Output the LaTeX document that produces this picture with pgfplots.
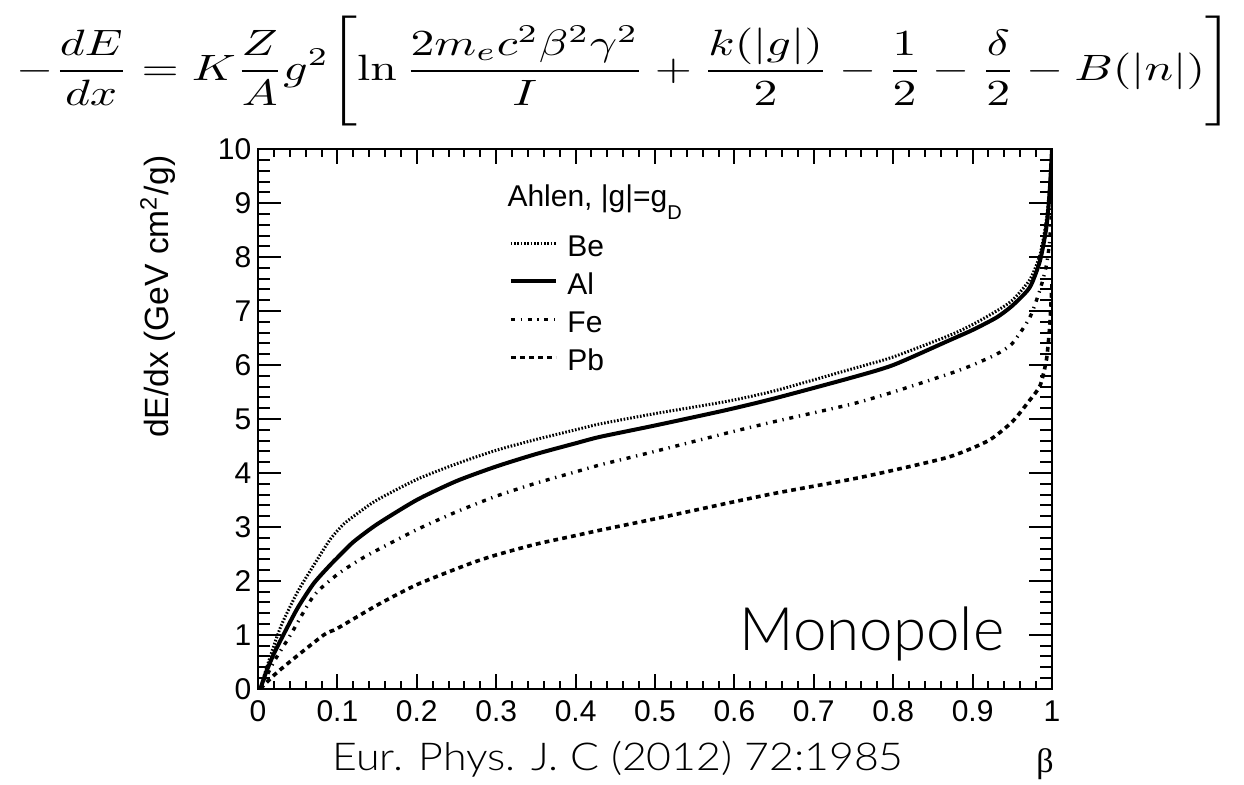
\documentclass[border=0pt]{standalone}
\usepackage[no-math]{fontspec}
\setmainfont{Liberation Sans}
\newfontfamily\seriffont{Liberation Serif}
\IfFontExistsTF{Lato Light}{\newfontfamily\lightfont{Lato Light}}{\newfontfamily\lightfont{Liberation Sans}}
\usepackage{graphicx}
\usepackage{pgfplots}
\pgfplotsset{compat=1.18}

% Ahlen stopping power of a Dirac monopole, dE/dx vs beta
\pgfplotstableread{
b      v
0.003  0.00
0.010  0.35
0.020  0.80
0.030  1.20
0.050  1.80
0.074  2.38
0.090  2.75
0.100  2.93
0.110  3.08
0.130  3.30
0.150  3.50
0.200  3.88
0.250  4.17
0.300  4.42
0.350  4.62
0.400  4.80
0.431  4.91
0.500  5.10
0.588  5.32
0.650  5.52
0.746  5.92
0.800  6.15
0.871  6.55
0.900  6.75
0.930  7.00
0.950  7.20
0.972  7.58
0.985  8.05
0.993  8.70
0.997  9.30
1.000  10.0
}\tabBe

\pgfplotstableread{
b      v
0.003  0.00
0.010  0.30
0.020  0.65
0.032  1.00
0.050  1.50
0.070  1.95
0.090  2.28
0.100  2.43
0.120  2.72
0.150  3.05
0.200  3.50
0.250  3.85
0.300  4.12
0.350  4.35
0.400  4.55
0.431  4.67
0.500  4.88
0.588  5.16
0.650  5.38
0.746  5.76
0.800  6.00
0.871  6.46
0.900  6.65
0.930  6.88
0.950  7.10
0.972  7.44
0.985  7.94
0.993  8.56
0.997  9.20
1.000  10.0
}\tabAl

\pgfplotstableread{
b      v
0.003  0.00
0.020  0.50
0.041  1.00
0.070  1.72
0.100  2.12
0.129  2.40
0.150  2.57
0.200  2.95
0.250  3.28
0.300  3.57
0.350  3.81
0.400  4.02
0.431  4.15
0.500  4.40
0.588  4.73
0.650  4.95
0.746  5.27
0.800  5.50
0.871  5.84
0.900  6.00
0.930  6.20
0.950  6.40
0.972  6.88
0.985  7.40
0.993  7.85
0.997  8.30
1.000  9.00
}\tabFe

\pgfplotstableread{
b      v
0.003  0.00
0.020  0.25
0.040  0.50
0.083  1.00
0.100  1.12
0.150  1.55
0.200  1.93
0.267  2.32
0.300  2.48
0.350  2.68
0.400  2.84
0.431  2.94
0.500  3.15
0.588  3.43
0.650  3.62
0.746  3.88
0.800  4.05
0.871  4.30
0.920  4.60
0.950  4.95
0.972  5.35
0.985  5.62
0.993  6.10
0.997  6.70
1.000  7.50
}\tabPb

\begin{document}
\begin{tikzpicture}
\useasboundingbox (0,0) rectangle (311pt,196pt);
\begin{axis}[
  at={(64.5pt,23.8pt)}, anchor=south west,
  scale only axis, width=198.5pt, height=134.9pt,
  xmin=0, xmax=1, ymin=0, ymax=10,
  xtick={0,0.1,...,1.0}, ytick={0,1,...,10},
  xticklabels={0,0.1,0.2,0.3,0.4,0.5,0.6,0.7,0.8,0.9,1},
  minor x tick num=4, minor y tick num=4,
  tick align=inside, xtick pos=both, ytick pos=both,
  major x tick style={/pgfplots/major tick length=3.75pt},
  minor x tick style={/pgfplots/minor tick length=1.9pt},
  major y tick style={/pgfplots/major tick length=5.75pt},
  minor y tick style={/pgfplots/minor tick length=3pt},
  every tick/.style={black, line width=0.5pt},
  axis line style={line width=0.55pt},
  /pgf/number format/assume math mode=true,
  ticklabel style={font=\fontsize{7.5}{9}\selectfont, inner sep=0pt},
  xticklabel shift=2.8pt, yticklabel shift=1.5pt,
  legend style={at={(0.3149,0.8425)}, anchor=north west, draw=none, fill=none,
    font=\fontsize{7.5}{9}\selectfont, row sep=4.1pt, column sep=2.4pt,
    inner sep=0pt, nodes={inner sep=0pt, text height=5.4pt, text depth=0pt}},
  legend cell align=left,
  legend image code/.code={\draw[#1] (0pt,0.6pt) -- (11.25pt,0.6pt);},
]
\addplot[black, line width=0.75pt, dash pattern=on 0.4pt off 0.43pt, smooth, tension=0.4] table[x=b,y=v] {\tabBe};
\addlegendentry{Be}
\addplot[black, line width=1.0pt, smooth, tension=0.4] table[x=b,y=v] {\tabAl};
\addlegendentry{Al}
\addplot[black, line width=0.85pt, dash pattern=on 1pt off 1.43pt on 0.33pt off 1.43pt, smooth, tension=0.4] table[x=b,y=v] {\tabFe};
\addlegendentry{Fe}
\addplot[black, line width=0.9pt, dash pattern=on 1.2pt off 1.05pt, smooth, tension=0.4] table[x=b,y=v] {\tabPb};
\addlegendentry{Pb}
\end{axis}
\begin{scope}[x=0.25pt, y=-0.25pt, yshift=196pt]
  \node[inner sep=0pt] at (625,71) {\resizebox*{304pt}{27.5pt}{$\displaystyle -\frac{dE}{dx} = K\frac{Z}{A}g^2\Biggl[\ln\frac{2m_ec^2\beta^2\gamma^2}{I} + \frac{k(|g|)}{2} - \frac{1}{2} - \frac{\delta}{2} - B(|n|)\Biggr]$}};
  \node[anchor=base west, inner sep=0pt, font=\fontsize{7.5}{9}\selectfont] at (506.7,206.7) {Ahlen, |g|=g\raisebox{-3.2pt}{\fontsize{5}{5}\selectfont D}};
  \node[anchor=base east, inner sep=0pt, font=\lightfont\fontsize{15}{18}\selectfont] at (1005,650) {Monopole};
  \node[anchor=base west, inner sep=0pt, font=\lightfont\fontsize{9.6}{11}\selectfont] at (331.7,770) {\resizebox{142.8pt}{\height}{Eur. Phys. J. C (2012) 72:1985}};
  \node[anchor=base, inner sep=0pt, font=\seriffont\fontsize{8.5}{10}\selectfont] at (1045,772) {β};
  \node[anchor=base east, rotate=90, inner sep=0pt, font=\fontsize{8.4}{10}\selectfont] at (168,155) {dE/dx (GeV cm\textsuperscript{2}/g)};
\end{scope}
\end{tikzpicture}
\end{document}
